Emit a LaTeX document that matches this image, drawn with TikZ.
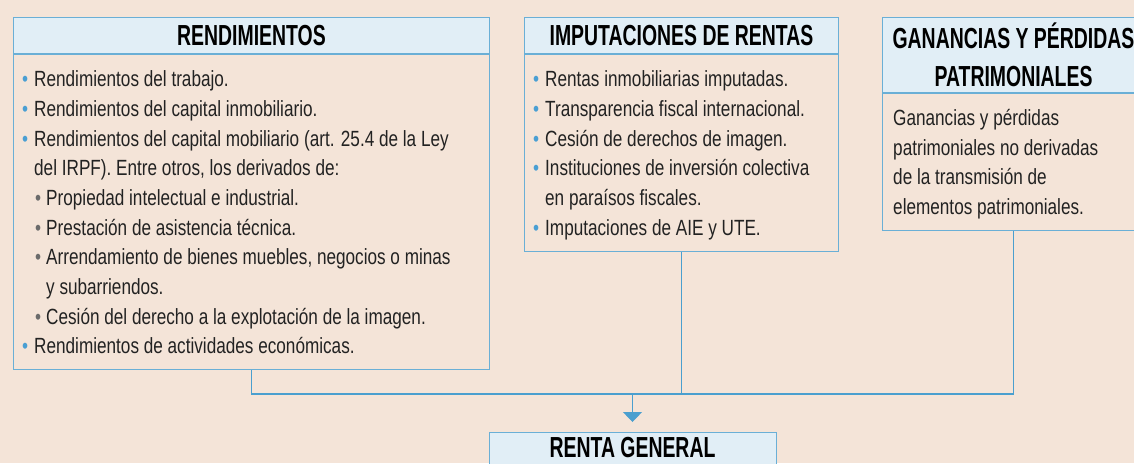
\documentclass[tikz,border=0pt]{standalone}
\usepackage{fontspec}
\setmainfont{Liberation Sans}[FakeStretch=0.78]
\newfontfamily\headfont{Liberation Sans}[FakeStretch=0.67]
\usetikzlibrary{arrows.meta}
\definecolor{paper}{HTML}{F4E4D8}
\definecolor{headfill}{HTML}{E1EEF6}
\definecolor{frame}{HTML}{6AAFD6}
\definecolor{linkblue}{HTML}{4A9FCF}
\definecolor{dotblue}{HTML}{4A9FD3}
\definecolor{dotgray}{HTML}{6B6B6B}
\definecolor{ink}{HTML}{222222}
\tikzset{>={Triangle[width=19pt,length=10pt]}}
\newcommand{\bul}{\makebox[12pt][l]{\textcolor{dotblue}{•}}}
\newcommand{\subbul}{\hspace*{13pt}\makebox[11pt][l]{\textcolor{dotgray}{•}}}

\begin{document}
\begin{tikzpicture}[x=1pt, y=-1pt,
    head/.style={draw=frame, fill=headfill, line width=1pt, inner sep=0pt,
      anchor=north west, text=black, align=center,
      font=\headfont\bfseries\fontsize{29}{38}\selectfont},
    body/.style={draw=frame, line width=1pt, inner sep=0pt, anchor=north west},
    bodytext/.style={anchor=north west, inner sep=0pt, align=left, text=ink,
      font=\fontsize{22}{29.7}\selectfont},
    link/.style={draw=linkblue, line width=1.2pt}]
  % page
  \fill[paper] (0,0) rectangle (1134,463);
  \useasboundingbox (0,0) rectangle (1134,463);
  \clip (0,0) rectangle (1134,463);
  % rendimientos
  \node[head, minimum width=476pt, minimum height=36pt] (rend-h) at (13,17) {RENDIMIENTOS};
  \node[body, minimum width=476pt, minimum height=315pt] (rend) at (rend-h.south west) {};
  \node[bodytext] (rend-t) at (22,70.5) {%
    \bul Rendimientos del trabajo.\\
    \bul Rendimientos del capital inmobiliario.\\
    \bul Rendimientos del capital mobiliario (art. 25.4 de la Ley\\
    \hspace*{12pt}del IRPF). Entre otros, los derivados de:\\
    \subbul Propiedad intelectual e industrial.\\
    \subbul Prestación de asistencia técnica.\\
    \subbul Arrendamiento de bienes muebles, negocios o minas\\
    \hspace*{24pt}y subarriendos.\\
    \subbul Cesión del derecho a la explotación de la imagen.\\
    \bul Rendimientos de actividades económicas.};
  % imputaciones
  \node[head, minimum width=314pt, minimum height=36pt] (imp-h) at (524,17) {IMPUTACIONES DE RENTAS};
  \node[body, minimum width=314pt, minimum height=197pt] (imp) at (imp-h.south west) {};
  \node[bodytext] (imp-t) at (533,70.5) {%
    \bul Rentas inmobiliarias imputadas.\\
    \bul Transparencia fiscal internacional.\\
    \bul Cesión de derechos de imagen.\\
    \bul Instituciones de inversión colectiva\\
    \hspace*{12pt}en paraísos fiscales.\\
    \bul Imputaciones de AIE y UTE.};
  % ganancias
  \node[head, minimum width=262pt, minimum height=75pt] (gan-h) at (882,17) {GANANCIAS Y PÉRDIDAS\\PATRIMONIALES};
  \node[body, minimum width=262pt, minimum height=137pt] (gan) at (gan-h.south west) {};
  \node[bodytext] (gan-t) at (893,109) {%
    Ganancias y pérdidas\\
    patrimoniales no derivadas\\
    de la transmisión de\\
    elementos patrimoniales.};
  % renta general, cut by the page edge
  \node[head, draw=none, minimum width=286pt, minimum height=31pt] (gen) at (489,432) {RENTA GENERAL};
  \draw[frame, line width=1pt] (gen.south west) |- (gen.north east) -- (gen.south east);
  % connectors
  \coordinate (join) at (gen.north |- 0,394);
  \draw[link] (rend.south) |- (gan.south |- join) -- (gan.south);
  \draw[link] (imp.south) -- (imp.south |- join);
  \draw[link, ->, shorten >=10pt] (join) -- (gen.north);
\end{tikzpicture}
\end{document}
